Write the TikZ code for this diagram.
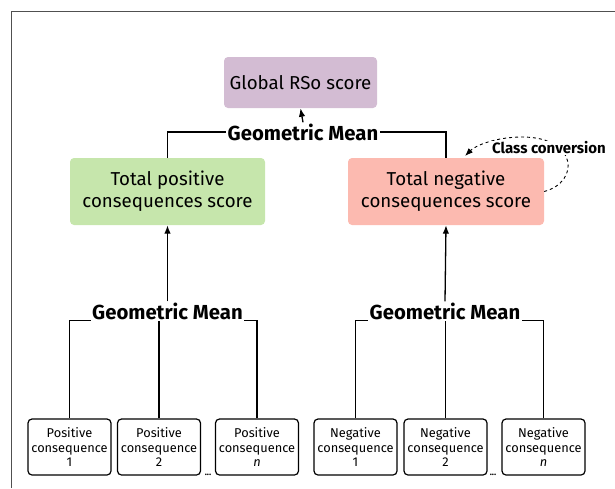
\documentclass[tikz,border=0pt]{standalone}
\usepackage{fontspec}
\setmainfont{Fira Sans}
\usepackage{xcolor}
\definecolor{rsopurple}{RGB}{211,188,211}
\definecolor{rsogreen}{RGB}{198,230,172}
\definecolor{rsored}{RGB}{252,186,176}
\definecolor{rsoframe}{RGB}{80,80,80}
\usetikzlibrary{arrows.meta, positioning}

\begin{document}
\begin{tikzpicture}[x=1pt, y=-1pt,
  scorebox/.style={rounded corners=4pt, inner sep=0pt, align=center,
                   font=\fontsize{18.7}{22}\selectfont},
  consbox/.style={draw, line width=1.2pt, rounded corners=4pt, inner sep=0pt,
                  minimum width=83pt, minimum height=56pt, align=center,
                  font=\fontsize{12.8}{14.5}\selectfont},
  meanlabel/.style={font=\bfseries\fontsize{20.3}{22}\selectfont, inner sep=1.5pt,
                    text height=16pt, text depth=0pt, anchor=base},
  link/.style={line width=1.1pt},
  uplink/.style={line width=1.3pt, -{Latex[length=8.5pt, width=6.5pt]}}]
\useasboundingbox (0,0) rectangle (615,488);
\draw[rsoframe, line width=1pt] (11,488) -- (11,11) -- (615,11);

% score boxes
\node[scorebox, fill=rsopurple, minimum width=153pt, minimum height=51pt] (global) at (300.5,82.5) {Global RSo score};
\node[scorebox, fill=rsogreen, minimum width=195pt, minimum height=67pt] (pos) at (167.5,191.5) {Total positive\\consequences score};
\node[scorebox, fill=rsored, minimum width=196pt, minimum height=67pt] (neg) at (446,191.5) {Total negative\\consequences score};

% geometric means
\node[meanlabel] (gmTop) at (303,140) {Geometric Mean};
\node[meanlabel] (gmPos) at (167.5,319) {Geometric Mean};
\node[meanlabel] (gmNeg) at (445,319) {Geometric Mean};

% consequences
\node[consbox] (p1) at (69.5,447) {Positive\\consequence\\1};
\node[consbox] (p2) at (159,447) {Positive\\consequence\\2};
\node[consbox] (p3) at (257,447) {Positive\\consequence\\\textit{n}};
\node[consbox] (n1) at (355.5,447) {Negative\\consequence\\1};
\node[consbox] (n2) at (445.5,447) {Negative\\consequence\\2};
\node[consbox] (n3) at (543.5,447) {Negative\\consequence\\\textit{n}};
\node[font=\bfseries\small, inner sep=0pt] (dotsPos) at (208,475) {...};
\node[font=\bfseries\small, inner sep=0pt] (dotsNeg) at (493,475) {...};

% connectors
\draw[link] (pos.north) |- (gmTop.west);
\draw[link] (neg.north) |- (gmTop.east);
\draw[uplink] (gmTop.north) -- (global.south);

\draw[link] (p1.north) |- (gmPos.south west);
\draw[link] (p3.north) |- (gmPos.south east);
\draw[link] (p2.north) -- (p2.north |- gmPos.south);
\draw[uplink] (gmPos.north) -- (pos.south);

\draw[link] (n1.north) |- (gmNeg.south west);
\draw[link] (n3.north) |- (gmNeg.south east);
\draw[link] (n2.north) -- (n2.north |- gmNeg.south);
\draw[uplink] (gmNeg.north) -- (neg.south);

% class conversion loop
\coordinate (convEnd) at (465,156);
\draw[line width=0.9pt, dashed, -{Latex[length=8pt, width=6pt]}]
  (neg.east) .. controls (580,182) and (578,137) .. (522,137)
  .. controls (497,137) and (476,145) .. (convEnd);
\node[font=\bfseries\fontsize{15}{18}\selectfont, fill=white, inner sep=1pt] (conv) at (549,148) {Class conversion};
\end{tikzpicture}
\end{document}
